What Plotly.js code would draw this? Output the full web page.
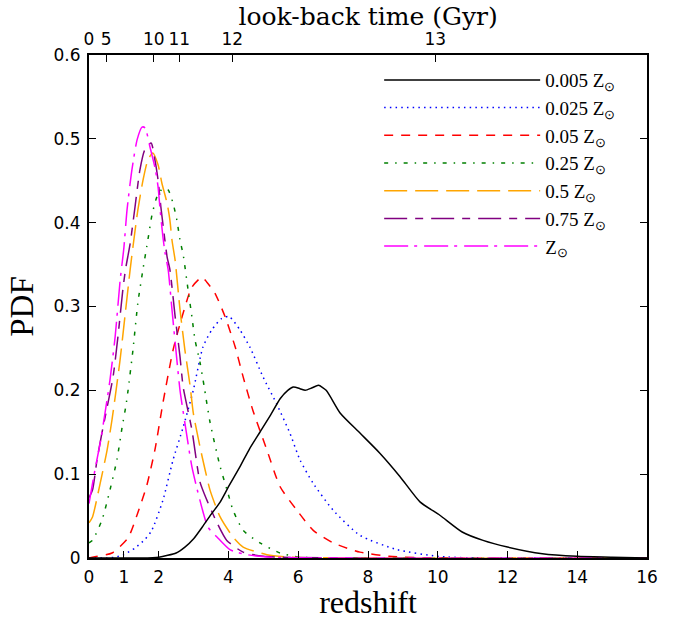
<!DOCTYPE html>
<html>
<head>
<meta charset="utf-8">
<script src="https://cdn.plot.ly/plotly-3.0.1.min.js"></script>
<style>html,body{margin:0;padding:0;background:#fff;}#chart{width:683px;height:620px;}</style>
</head>
<body>
<div id="chart"></div>
<script>
// ---- data ----
const seriesNames = ['0.005 Z<sub>⊙</sub>', '0.025 Z<sub>⊙</sub>', '0.05 Z<sub>⊙</sub>', '0.25 Z<sub>⊙</sub>', '0.5 Z<sub>⊙</sub>', '0.75 Z<sub>⊙</sub>', 'Z<sub>⊙</sub>'];

const z_0005 = [0, 1, 1.5, 2, 2.5, 2.75, 3, 3.25, 3.5, 3.75, 4, 4.33, 4.6, 4.9, 5.2, 5.48, 5.7, 5.86, 6.05, 6.2, 6.4, 6.58, 6.8, 7.2, 7.77, 8.34, 8.92, 9.49, 10.06, 10.7, 11.3, 12, 13, 14, 15, 16];
const pdf_0005 = [0, 0, 0, 0.001, 0.006, 0.013, 0.023, 0.037, 0.052, 0.066, 0.085, 0.109, 0.13, 0.150, 0.170, 0.190, 0.200, 0.204, 0.202, 0.200, 0.203, 0.206, 0.200, 0.173, 0.149, 0.125, 0.097, 0.067, 0.051, 0.031, 0.021, 0.013, 0.005, 0.002, 0.001, 0];

const z_0025 = [0, 0.5, 0.75, 1, 1.32, 1.6, 1.8, 2.12, 2.41, 2.7, 2.99, 3.27, 3.52, 3.81, 4.02, 4.33, 4.62, 4.99, 5.39, 5.76, 6.05, 6.43, 7.0, 7.77, 8.83, 10, 11, 16];
const pdf_0025 = [0, 0, 0.001, 0.004, 0.012, 0.022, 0.033, 0.069, 0.117, 0.156, 0.200, 0.252, 0.272, 0.286, 0.288, 0.272, 0.251, 0.216, 0.183, 0.149, 0.117, 0.089, 0.057, 0.027, 0.010, 0.002, 0, 0];

const z_005 = [0, 0.1, 0.66, 1.12, 1.4, 1.66, 1.89, 2.12, 2.41, 2.67, 2.95, 3.24, 3.38, 3.61, 3.9, 4.19, 4.42, 4.7, 5.1, 5.48, 5.96, 6.43, 7.0, 7.77, 8.6, 10, 16];
const pdf_005 = [0, 0.001, 0.006, 0.024, 0.054, 0.087, 0.129, 0.185, 0.248, 0.288, 0.323, 0.335, 0.329, 0.316, 0.288, 0.252, 0.216, 0.176, 0.129, 0.085, 0.057, 0.033, 0.018, 0.007, 0.002, 0, 0];

const z_025 = [0, 0.1, 0.37, 0.6, 0.8, 0.95, 1.06, 1.12, 1.26, 1.4, 1.55, 1.69, 1.81, 1.95, 2.12, 2.27, 2.41, 2.52, 2.61, 2.7, 2.84, 2.95, 3.04, 3.18, 3.3, 3.47, 3.76, 3.96, 4.13, 4.42, 4.9, 5.48, 6.05, 7, 16];
const pdf_025 = [0.018, 0.021, 0.045, 0.081, 0.117, 0.156, 0.182, 0.2, 0.248, 0.304, 0.345, 0.38, 0.41, 0.431, 0.441, 0.439, 0.423, 0.403, 0.379, 0.362, 0.32, 0.288, 0.26, 0.234, 0.205, 0.162, 0.109, 0.081, 0.057, 0.033, 0.018, 0.006, 0.001, 0, 0];

const z_05 = [0, 0.1, 0.32, 0.52, 0.66, 0.75, 0.89, 1.03, 1.18, 1.26, 1.4, 1.55, 1.69, 1.83, 1.98, 2.09, 2.24, 2.32, 2.38, 2.47, 2.61, 2.75, 2.9, 2.99, 3.18, 3.33, 3.47, 3.76, 4.13, 4.42, 5.1, 5.8, 16];
const pdf_05 = [0.042, 0.049, 0.089, 0.129, 0.165, 0.192, 0.236, 0.288, 0.344, 0.371, 0.415, 0.451, 0.475, 0.483, 0.469, 0.447, 0.423, 0.403, 0.379, 0.355, 0.296, 0.248, 0.205, 0.173, 0.133, 0.105, 0.081, 0.049, 0.025, 0.013, 0.004, 0.001, 0];

const z_075 = [0, 0.1, 0.23, 0.37, 0.52, 0.69, 0.83, 0.97, 1.05, 1.18, 1.32, 1.46, 1.6, 1.78, 1.89, 1.98, 2.06, 2.15, 2.24, 2.32, 2.47, 2.61, 2.7, 2.95, 3.18, 3.38, 3.67, 3.95, 4.42, 5, 16];
const pdf_075 = [0.072, 0.081, 0.117, 0.149, 0.18, 0.216, 0.264, 0.32, 0.345, 0.375, 0.419, 0.463, 0.487, 0.495, 0.475, 0.451, 0.419, 0.388, 0.359, 0.344, 0.288, 0.24, 0.204, 0.153, 0.091, 0.069, 0.042, 0.021, 0.007, 0.002, 0];

const z_1 = [0, 0.17, 0.32, 0.46, 0.6, 0.75, 0.89, 1.0, 1.09, 1.23, 1.38, 1.52, 1.61, 1.75, 1.89, 1.98, 2.04, 2.12, 2.18, 2.27, 2.38, 2.52, 2.61, 2.75, 2.95, 3.18, 3.41, 3.67, 4.04, 4.53, 5.2, 16];
const pdf_1 = [0.065, 0.105, 0.137, 0.173, 0.212, 0.264, 0.33, 0.37, 0.415, 0.463, 0.499, 0.514, 0.513, 0.49, 0.466, 0.443, 0.415, 0.383, 0.364, 0.344, 0.296, 0.236, 0.2, 0.161, 0.109, 0.069, 0.037, 0.025, 0.01, 0.004, 0.001, 0];

// bottom axis ticks
const redshiftTicks = [0, 1, 2, 4, 6, 8, 10, 12, 14, 16];
// top axis: look-back time labels and the redshift where each one sits
const lookbackLabels = ['0', '5', '10', '11', '12', '13'];
const lookbackZ = [0, 0.49, 1.86, 2.59, 4.11, 9.93];
const pdfTicks = [0, 0.1, 0.2, 0.3, 0.4, 0.5, 0.6];
const pdfTickText = ['0', '0.1', '0.2', '0.3', '0.4', '0.5', '0.6'];

// ---- styles ----
const xs = [z_0005, z_0025, z_005, z_025, z_05, z_075, z_1];
const ys = [pdf_0005, pdf_0025, pdf_005, pdf_025, pdf_05, pdf_075, pdf_1];
const colors = ['#000000', '#0000ff', '#ff0000', '#008000', '#ffa500', '#800080', '#ff00ff'];
const dashes = ['solid', '1.5px,4.2px', '9px,8px', '4px,7px,1.5px,7px', '23px,8px', '23px,8px,8px,8px', '24px,6px,3px,7px'];

const traces = xs.map((x, i) => ({
  x: x, y: ys[i], type: 'scatter', mode: 'lines', name: seriesNames[i],
  xaxis: i === 0 ? 'x2' : 'x',
  legendgroup: 'g' + i,
  line: {color: colors[i], width: 1.5, dash: dashes[i], shape: 'spline', smoothing: 0.6},
  hoverinfo: 'skip'
}));

const tickFont = {family: 'DejaVu Sans', size: 17, color: '#000'};
const layout = {
  width: 683, height: 620,
  margin: {l: 89, r: 36, t: 55, b: 62},
  paper_bgcolor: '#fff', plot_bgcolor: '#fff',
  showlegend: true,
  title: {text: 'look-back time (Gyr)', font: {family: 'DejaVu Serif', size: 25, color: '#000'}, x: 0.539, xanchor: 'center', xref: 'container', y: 0.974, yanchor: 'middle', yref: 'container'},
  xaxis: {
    range: [0, 16], tickvals: redshiftTicks, ticktext: redshiftTicks.map(String),
    ticks: 'inside', ticklen: 7, tickwidth: 1, tickcolor: '#000',
    showline: true, linecolor: '#000', linewidth: 2, mirror: false,
    showgrid: false, zeroline: false, tickfont: tickFont, ticklabelstandoff: 3,
    title: {text: 'redshift', font: {family: 'Liberation Serif', size: 32, color: '#000'}, standoff: 7}
  },
  xaxis2: {
    range: [0, 16], overlaying: 'x', side: 'top', anchor: 'y',
    tickvals: lookbackZ, ticktext: lookbackLabels,
    ticks: 'inside', ticklen: 7, tickwidth: 1, tickcolor: '#000',
    showline: true, linecolor: '#000', linewidth: 2,
    showgrid: false, zeroline: false, tickfont: tickFont, ticklabelstandoff: 1
  },
  yaxis: {
    range: [0, 0.6], tickvals: pdfTicks, ticktext: pdfTickText,
    ticks: 'inside', ticklen: 7, tickwidth: 1, tickcolor: '#000',
    showline: true, linecolor: '#000', linewidth: 2, mirror: 'ticks',
    showgrid: false, zeroline: false, tickfont: tickFont, ticklabelstandoff: 3,
    title: {text: 'PDF', font: {family: 'Liberation Serif', size: 33, color: '#000'}, standoff: 10}
  },
  legend: {
    x: 0.52, xanchor: 'left', y: 0.988, yanchor: 'top',
    bgcolor: 'rgba(0,0,0,0)', borderwidth: 0,
    font: {family: 'Liberation Serif', size: 19, color: '#000'},
    itemwidth: 156, tracegroupgap: 2.8, traceorder: 'normal'
  }
};

Plotly.newPlot('chart', traces, layout, {displayModeBar: false, staticPlot: true});
</script>
</body>
</html>
